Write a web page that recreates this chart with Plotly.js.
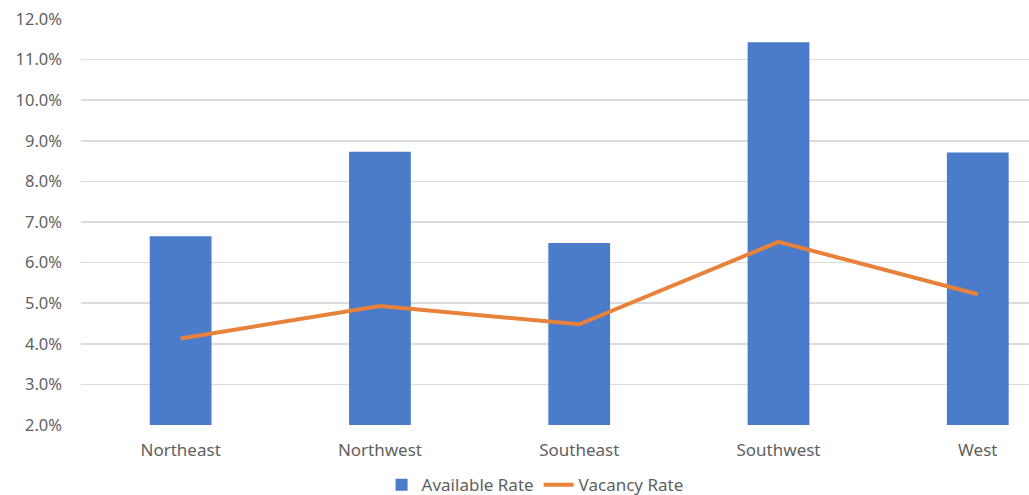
<!DOCTYPE html>
<html>
<head>
<meta charset="utf-8">
<script src="https://cdn.plot.ly/plotly-3.0.1.min.js"></script>
<style>
  html, body { margin: 0; padding: 0; background: #ffffff; }
  #chart { width: 1029px; height: 495px; }
</style>
</head>
<body>
<div id="chart"></div>
<script>
// Regions on the category axis
const regions = ["Northeast", "Northwest", "Southeast", "Southwest", "West"];

// Rates in percent
const availableRate = [6.65, 8.73, 6.48, 11.43, 8.71];
const vacancyRate = [4.13, 4.93, 4.48, 6.51, 5.22];

// Y axis ticks
const yTickVals = [2, 3, 4, 5, 6, 7, 8, 9, 10, 11, 12];
const yTickText = yTickVals.map(v => v.toFixed(1) + "%");

const textColor = "#5f5f5f";
const fontFamily = "'Noto Sans', 'Open Sans', sans-serif";

const traces = [
  {
    type: "bar",
    name: "Available Rate",
    x: regions,
    y: availableRate,
    width: 0.31,
    marker: { color: "#4a7cc9" },
    hoverinfo: "x+y"
  },
  {
    type: "scatter",
    mode: "lines",
    name: "Vacancy Rate",
    x: regions,
    y: vacancyRate,
    line: { color: "#e8823a", width: 4 },
    hoverinfo: "x+y"
  }
];

const layout = {
  width: 1029,
  height: 495,
  margin: { l: 81, r: 0, t: 19, b: 70 },
  paper_bgcolor: "#ffffff",
  plot_bgcolor: "#ffffff",
  font: { family: fontFamily, size: 17, color: textColor },
  showlegend: true,
  legend: {
    orientation: "h",
    xref: "container",
    yref: "container",
    x: 0.52,
    xanchor: "center",
    y: 0.02,
    yanchor: "middle",
    font: { family: fontFamily, size: 17, color: textColor },
    traceorder: "normal"
  },
  xaxis: {
    type: "category",
    range: [-0.5, 4.257],
    showgrid: false,
    zeroline: false,
    showline: false,
    ticks: "",
    tickfont: { family: fontFamily, size: 17, color: textColor },
    ticklabelstandoff: 13,
    fixedrange: true
  },
  yaxis: {
    range: [2, 12],
    tickvals: yTickVals,
    ticktext: yTickText,
    showgrid: true,
    gridcolor: "#dcdcdc",
    gridwidth: 1.5,
    zeroline: false,
    showline: false,
    ticks: "",
    tickfont: { family: fontFamily, size: 16.5, color: textColor },
    ticklabelstandoff: 18,
    fixedrange: true
  },
  bargap: 0.69
};

Plotly.newPlot("chart", traces, layout, { displayModeBar: false, staticPlot: true });
</script>
</body>
</html>
